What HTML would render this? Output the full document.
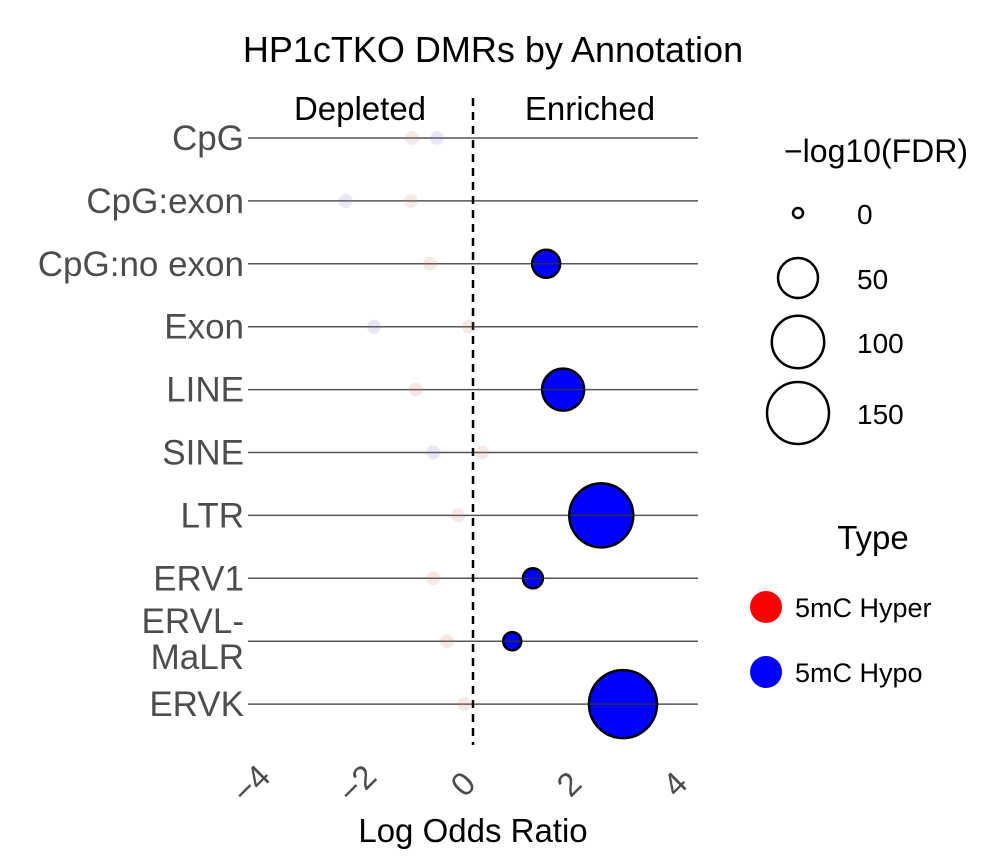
<!DOCTYPE html>
<html><head><meta charset="utf-8"><style>
body{margin:0;background:#fff;}
svg{display:block;font-family:"Liberation Sans",sans-serif;}
</style></head><body>
<svg id="chart" width="999" height="868" viewBox="0 0 999 868">
<text x="493" y="62" font-size="36" text-anchor="middle" fill="#000">HP1cTKO DMRs by Annotation</text>
<text x="360" y="120" font-size="33" text-anchor="middle" fill="#000">Depleted</text>
<text x="590" y="120" font-size="33" text-anchor="middle" fill="#000">Enriched</text>
<g id="rows"></g>
<g id="marks"></g>
<g id="xticks"></g>
<text x="473" y="842" font-size="33" text-anchor="middle" fill="#000">Log Odds Ratio</text>
<text x="876" y="162" font-size="32" text-anchor="middle" fill="#000">−log10(FDR)</text>
<g id="sizeLegend"></g>
<text x="873" y="549" font-size="33" text-anchor="middle" fill="#000">Type</text>
<circle cx="766" cy="607" r="16" fill="#ff0000"/>
<text x="795" y="617" font-size="27" fill="#000">5mC Hyper</text>
<circle cx="766" cy="672" r="16" fill="#0000ff"/>
<text x="795" y="682" font-size="27" fill="#000">5mC Hypo</text>
</svg>
<script>
const categories=["CpG","CpG:exon","CpG:no exon","Exon","LINE","SINE","LTR","ERV1","ERVL-MaLR","ERVK"];
const hyperOR=[-1.15,-1.17,-0.81,-0.08,-1.08,0.17,-0.28,-0.75,-0.49,-0.17];
const hyperFDR=[0.2,0.2,0.2,0.2,0.2,0.2,0.2,0.2,0.2,0.2];
const hypoOR=[-0.68,-2.4,1.38,-1.87,1.70,-0.75,2.42,1.13,0.74,2.83];
const hypoFDR=[0.2,0.2,18,0.2,57,0.2,162,5.6,3.6,187];
const xTicks=[-4,-2,0,2,4];
const sizeBreaks=[0,50,100,150];
const NS="http://www.w3.org/2000/svg";
const xS=v=>473+v*53;
const yS=i=>138+i*62.9;
const rS=v=>5+2.12*Math.sqrt(v);
function mk(t,a,p){const e=document.createElementNS(NS,t);for(const k in a)e.setAttribute(k,a[k]);p.appendChild(e);return e;}
const rows=document.getElementById('rows'),marks=document.getElementById('marks'),xt=document.getElementById('xticks'),sl=document.getElementById('sizeLegend');
categories.forEach((c,i)=>{
  const y=yS(i);
  const l=mk('line',{x1:248,x2:698,y1:y,y2:y,stroke:'#555','stroke-width':1.5},rows);
  
  
  if(c==="ERVL-MaLR"){
    const t=mk('text',{x:244,y:y-8,'font-size':35,'text-anchor':'end',fill:'#4d4d4d'},rows);
    t.textContent="ERVL-";
    
    
    const t2=mk('text',{x:244,y:y+28,'font-size':35,'text-anchor':'end',fill:'#4d4d4d'},rows);
    t2.textContent="MaLR";
    
    
  } else {
    const t=mk('text',{x:244,y:y+12,'font-size':35,'text-anchor':'end',fill:'#4d4d4d'},rows);
    t.textContent=c;
    
    
  }
});
const z=mk('line',{x1:473,x2:473,y1:98,y2:745,stroke:'#000','stroke-width':2.5,'stroke-dasharray':'8,6'},rows);


categories.forEach((c,i)=>{
  const y=yS(i);
  const a=mk('circle',{cx:xS(hyperOR[i]),cy:y,r:rS(hyperFDR[i])+1,fill:'#d08080','fill-opacity':0.18},marks);
  
  
  const sig=hypoFDR[i]>1;
  const b=mk('circle',{cx:xS(hypoOR[i]),cy:y,r:sig?rS(hypoFDR[i]):rS(hypoFDR[i])+1,fill:sig?'#0000ff':'#8080c8','fill-opacity':sig?1:0.18,stroke:sig?'#000':'none','stroke-width':2.5},marks);
  
  
  if(sig){const l=mk('line',{x1:xS(hypoOR[i])-rS(hypoFDR[i]),x2:xS(hypoOR[i])+rS(hypoFDR[i]),y1:y,y2:y,stroke:'#333','stroke-width':1.2},marks);
    
    }
});
xTicks.forEach(v=>{
  const x=xS(v)-2,y=792;
  const t=mk('text',{x:x,y:y,'font-size':33,'text-anchor':'middle',fill:'#4d4d4d',transform:`rotate(-45 ${x} ${y})`},xt);
  t.textContent=v<0?'−'+Math.abs(v):String(v);
  
  
});
const ly=[213,278,342,413];
sizeBreaks.forEach((v,i)=>{
  const c=mk('circle',{cx:798,cy:ly[i],r:rS(v),fill:'none',stroke:'#000','stroke-width':2.5},sl);
  
  
  const t=mk('text',{x:857,y:ly[i]+11,'font-size':28,fill:'#000'},sl);
  t.textContent=v;
  
  
});
</script>
</body></html>
